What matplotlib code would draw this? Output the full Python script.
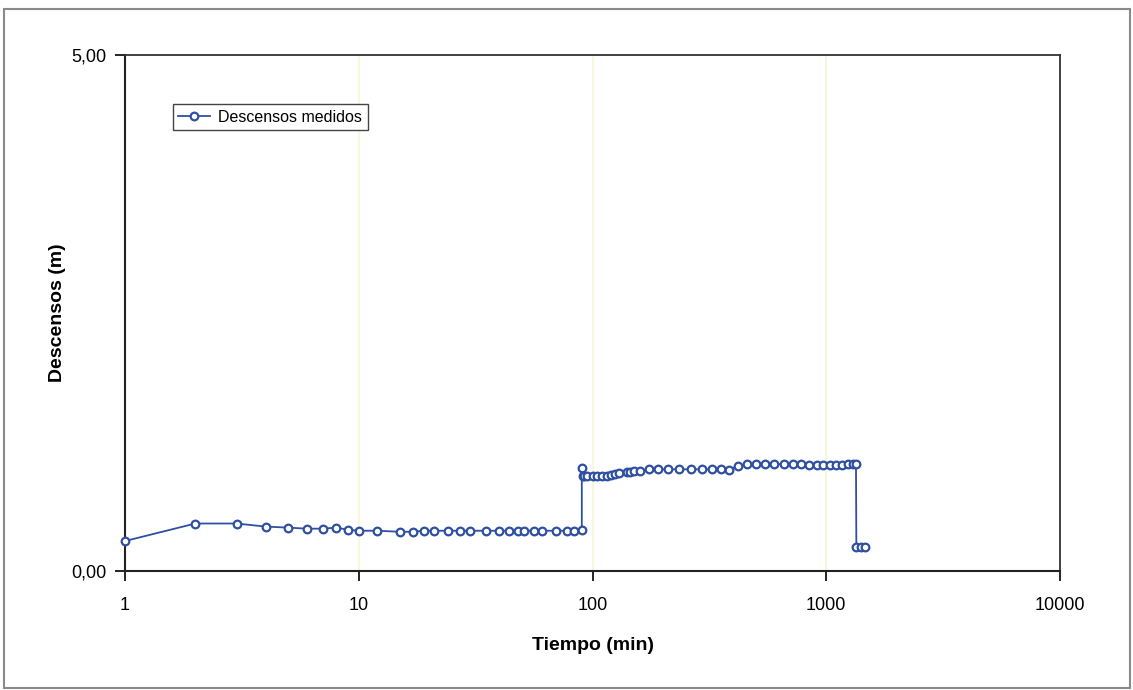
import matplotlib
matplotlib.use('Agg')
import matplotlib.pyplot as plt
from matplotlib.patches import Rectangle
from matplotlib.ticker import FixedLocator, FixedFormatter, NullLocator

plt.rcParams['font.family'] = ['Liberation Sans Narrow', 'Liberation Sans', 'DejaVu Sans']

# tiempo (min) y descensos (m)
tiempo = [1, 2, 3, 4, 5, 6, 7, 8, 9, 10, 12, 15, 17, 19, 21, 24, 27, 30, 35, 40,
          44, 48, 51, 56, 61, 70, 78, 83, 90,
          90, 91, 92, 95, 100, 105, 110, 115, 120, 125, 130, 140, 145, 150, 160,
          175, 190, 210, 235, 265, 295, 325, 355, 385, 420, 460, 500, 545, 600,
          660, 720, 780, 840, 910, 970, 1040, 1100, 1170, 1240, 1300, 1340,
          1345, 1410, 1470]
descensos = [0.29, 0.46, 0.46, 0.43, 0.42, 0.41, 0.41, 0.42, 0.40, 0.39, 0.39,
             0.38, 0.38, 0.39, 0.39, 0.39, 0.39, 0.39, 0.39, 0.39,
             0.39, 0.39, 0.39, 0.39, 0.39, 0.39, 0.39, 0.39, 0.40,
             1.00, 0.92, 0.92, 0.92, 0.92, 0.92, 0.92, 0.92, 0.93, 0.94, 0.95,
             0.96, 0.96, 0.965, 0.97,
             0.985, 0.985, 0.985, 0.985, 0.985, 0.985, 0.985, 0.985, 0.98, 1.02,
             1.035, 1.035, 1.035, 1.035,
             1.035, 1.035, 1.035, 1.03, 1.03, 1.03, 1.03, 1.03, 1.03, 1.035,
             1.04, 1.04,
             0.235, 0.235, 0.235]

x_ticks = [1, 10, 100, 1000, 10000]
x_labels = ['1', '10', '100', '1000', '10000']
y_ticks = [0, 5]
y_labels = ['0,00', '5,00']

blue = '#2f4fa2'

fig = plt.figure(figsize=(11.33, 6.9), dpi=100)
ax = fig.add_axes([0.1103, 0.1725, 0.8253, 0.7478])

# marco exterior gris
fig.patches.append(Rectangle((4 / 1133, 2 / 690), 1126 / 1133, 679 / 690,
                             transform=fig.transFigure, fill=False,
                             edgecolor='#8a8a8a', linewidth=1.5))

ax.plot(tiempo, descensos, '-o', color=blue, linewidth=1.3, markersize=5.5,
        markerfacecolor='white', markeredgecolor=blue, markeredgewidth=1.6,
        label='Descensos medidos', zorder=3, clip_on=False)

ax.set_xscale('log')
ax.set_xlim(1, 10000)
ax.set_ylim(0, 5)

ax.xaxis.set_major_locator(FixedLocator(x_ticks))
ax.xaxis.set_major_formatter(FixedFormatter(x_labels))
ax.xaxis.set_minor_locator(NullLocator())
ax.yaxis.set_major_locator(FixedLocator(y_ticks))
ax.yaxis.set_major_formatter(FixedFormatter(y_labels))

ax.tick_params(axis='both', direction='out', length=7, width=1.2, labelsize=13)
ax.tick_params(axis='x', pad=12)
ax.tick_params(axis='y', pad=6)

# lineas verticales muy claras
for xv in [10, 100, 1000]:
    ax.axvline(xv, color='#faf6dc', linewidth=1.5, zorder=0)

for side in ['left', 'bottom']:
    ax.spines[side].set_linewidth(1.5)
    ax.spines[side].set_color('#222222')
for side in ['top', 'right']:
    ax.spines[side].set_linewidth(1.3)
    ax.spines[side].set_color('#333333')

ax.set_xlabel('Tiempo (min)', fontsize=14, fontweight='bold', labelpad=16)
ax.set_ylabel('Descensos (m)', fontsize=14, fontweight='bold', labelpad=4)

leg = ax.legend(loc='upper left', bbox_to_anchor=(0.051, 0.905), fontsize=11.5,
                fancybox=False, framealpha=1, edgecolor='#444444',
                handlelength=2.0, handletextpad=0.5, borderpad=0.35,
                borderaxespad=0)
leg.get_frame().set_linewidth(1.0)

plt.savefig('out.png', dpi=100)
plt.close()
